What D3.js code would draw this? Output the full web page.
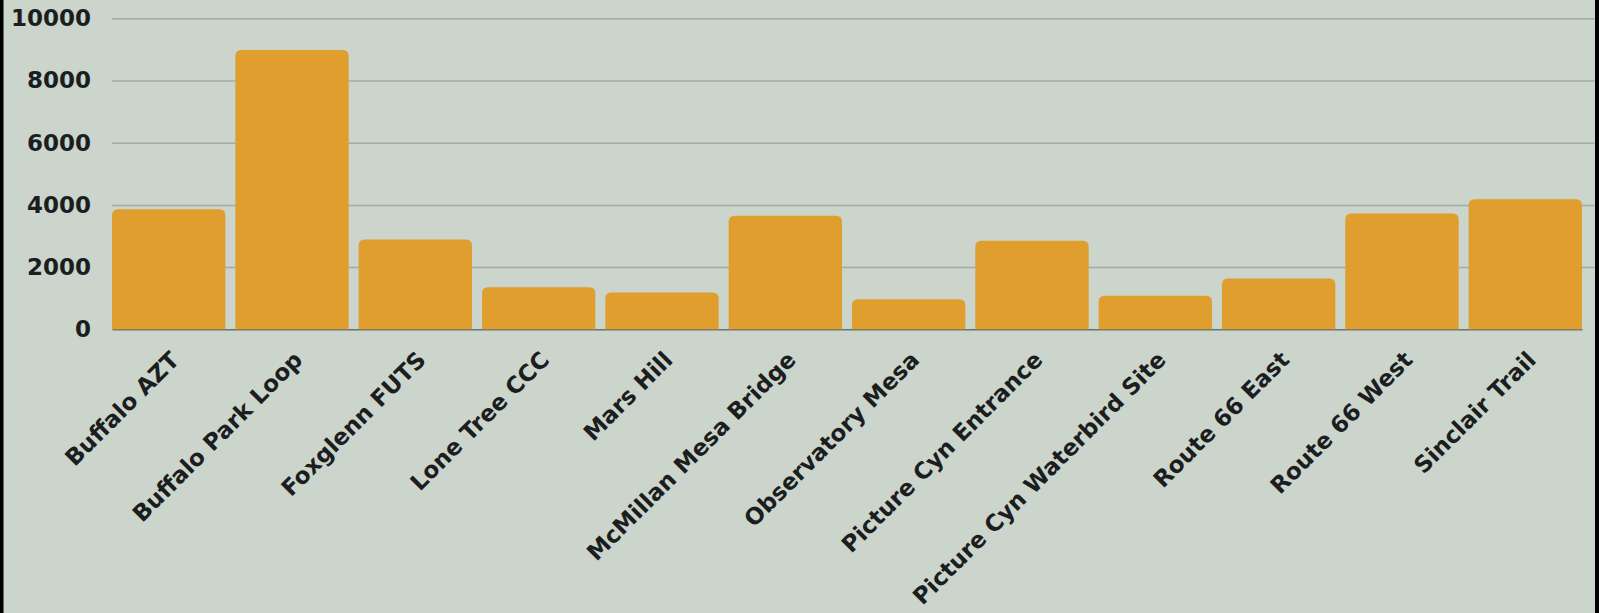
<!DOCTYPE html>
<html>
<head>
<meta charset="utf-8">
<script src="https://cdn.jsdelivr.net/npm/d3@7"></script>
<style>
  html, body { margin: 0; padding: 0; background: #cbd5cb; }
  svg { display: block; }
  text { font-family: "DejaVu Sans", sans-serif; font-weight: bold; fill: #1b1d1f; }
</style>
</head>
<body>
<svg id="chart" width="1599" height="613"></svg>
<script>
const categories = ["Buffalo AZT", "Buffalo Park Loop", "Foxglenn FUTS", "Lone Tree CCC", "Mars Hill",
  "McMillan Mesa Bridge", "Observatory Mesa", "Picture Cyn Entrance", "Picture Cyn Waterbird Site",
  "Route 66 East", "Route 66 West", "Sinclair Trail"];
const values = [3860, 8980, 2890, 1350, 1180, 3650, 970, 2850, 1080, 1630, 3720, 4180];
const yTicks = [0, 2000, 4000, 6000, 8000, 10000];

const W = 1599, H = 613;
const mLeft = 112, mRight = 1582, mTop = 18.3, mBottom = 329.3, gridRight = 1595;

const svg = d3.select("#chart");
svg.append("rect").attr("width", W).attr("height", H).attr("fill", "#cbd5cb");

const x = d3.scaleBand().domain(categories).range([mLeft, mRight]).paddingInner(0.081).paddingOuter(0);
const y = d3.scaleLinear().domain([0, 10000]).range([mBottom, mTop]);

// gridlines
const grid = svg.append("g").attr("transform", `translate(${mLeft},0)`)
  .call(d3.axisLeft(y).tickValues(yTicks.filter(v => v > 0)).tickSize(-(gridRight - mLeft)).tickFormat(""));
grid.select(".domain").remove();
grid.selectAll("line").attr("stroke", "#a3aba3").attr("stroke-width", 1.5);

// y labels
const yAxis = svg.append("g").attr("transform", `translate(${mLeft},0)`)
  .call(d3.axisLeft(y).tickValues(yTicks).tickSize(0).tickPadding(21).tickFormat(d3.format("d")));
yAxis.select(".domain").remove();
yAxis.selectAll("text").attr("font-size", 23).attr("fill", "#1b1d1f")
  .style("font-family", '"DejaVu Sans", sans-serif').style("font-weight", "bold");

// x axis baseline + labels
const xAxis = svg.append("g").attr("transform", `translate(0,${mBottom})`)
  .call(d3.axisBottom(x).tickSize(0).tickSizeOuter(0));
xAxis.select(".domain").attr("stroke", "#6b736f").attr("stroke-width", 1.5);
xAxis.selectAll("text")
  .attr("font-size", 23).attr("fill", "#1b1d1f")
  .style("font-family", '"DejaVu Sans", sans-serif').style("font-weight", "bold")
  .attr("text-anchor", "end").attr("y", 0).attr("dy", 0)
  .attr("transform", "translate(12,32) rotate(-45)");

// bars with rounded tops
const r = 6;
function barPath(x0, w, yTop, yBase) {
  const rr = Math.min(r, (yBase - yTop));
  return `M${x0},${yBase} V${yTop + rr} Q${x0},${yTop} ${x0 + rr},${yTop} H${x0 + w - rr} Q${x0 + w},${yTop} ${x0 + w},${yTop + rr} V${yBase} Z`;
}
svg.append("g").selectAll("path").data(categories).join("path")
  .attr("d", (d, i) => barPath(x(d), x.bandwidth(), y(values[i]), y(0)))
  .attr("fill", "#df9e2d");

// side borders
svg.append("rect").attr("x", 0).attr("y", 0).attr("width", 3.5).attr("height", H).attr("fill", "#000");
svg.append("rect").attr("x", 1595).attr("y", 0).attr("width", 4).attr("height", H).attr("fill", "#000");
</script>
</body>
</html>
